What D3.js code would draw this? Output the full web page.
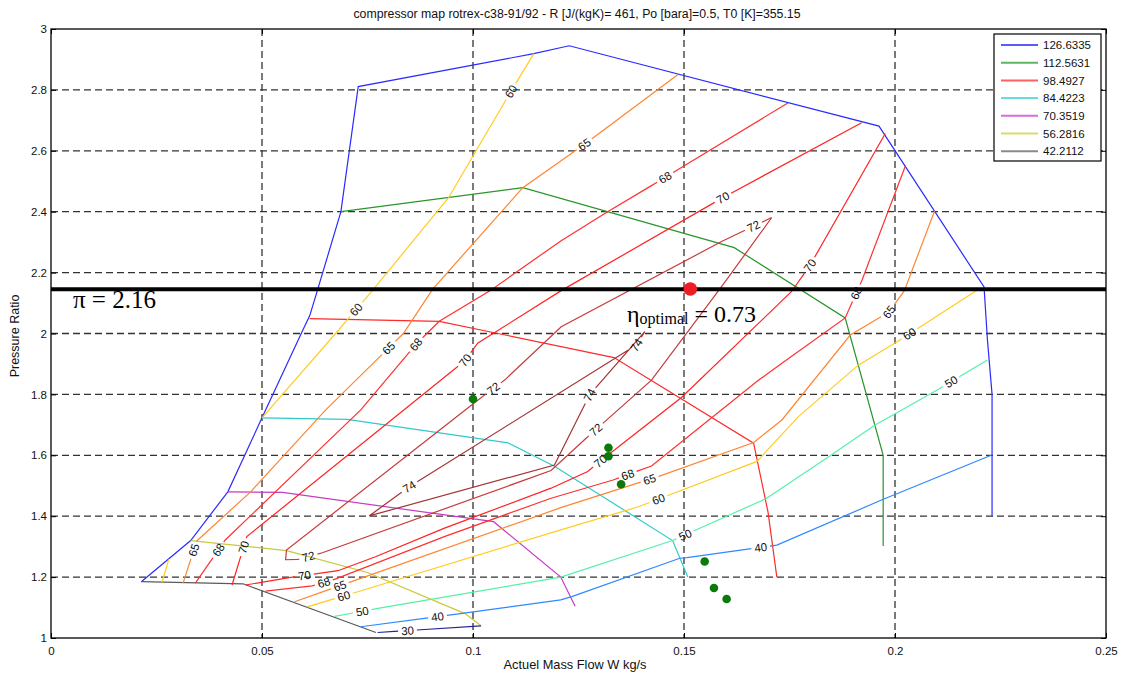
<!DOCTYPE html>
<html><head><meta charset="utf-8">
<script src="https://cdn.jsdelivr.net/npm/d3@7"></script>
<style>body{margin:0;background:#fff}</style>
</head><body>
<svg id="chart" width="1124" height="675"></svg>
<script>
// ---------- DATA ----------
const titleText = "compressor map rotrex-c38-91/92 - R [J/(kgK)= 461, Po [bara]=0.5, T0 [K]=355.15";
const xLabel = "Actuel Mass Flow W kg/s";
const yLabel = "Pressure Ratio";
const xTicks = [0, 0.05, 0.1, 0.15, 0.2, 0.25];
const xTickLabels = ["0", "0.05", "0.1", "0.15", "0.2", "0.25"];
const yTicks = [1, 1.2, 1.4, 1.6, 1.8, 2, 2.2, 2.4, 2.6, 2.8, 3];
const yTickLabels = ["1", "1.2", "1.4", "1.6", "1.8", "2", "2.2", "2.4", "2.6", "2.8", "3"];

// speed lines (legend values)
const speedNames = ["126.6335", "112.5631", "98.4927", "84.4223", "70.3519", "56.2816", "42.2112"];
const speed126 = [[0.0214,1.185],[0.0331,1.32],[0.0419,1.48],[0.05,1.723],[0.0596,2.009],[0.0613,2.058],[0.0632,2.145],[0.0687,2.40],[0.0728,2.811],[0.1144,2.919],[0.1228,2.945],[0.1962,2.681],[0.2211,2.153],[0.2219,1.98],[0.223,1.8],[0.223,1.4]];
const speed112 = [[0.0687,2.40],[0.1118,2.479],[0.1619,2.282],[0.1882,2.051],[0.1972,1.60],[0.1972,1.302]];
const speed98  = [[0.0613,2.049],[0.092,2.04],[0.1334,1.921],[0.1665,1.640],[0.1699,1.414],[0.172,1.20]];
const speed84  = [[0.05,1.723],[0.0702,1.718],[0.1083,1.641],[0.1193,1.564],[0.1473,1.32],[0.1509,1.20]];
const speed70  = [[0.0419,1.48],[0.0549,1.478],[0.1049,1.382],[0.1208,1.20],[0.1242,1.104]];
const speed56  = [[0.0331,1.32],[0.0558,1.287],[0.075,1.215],[0.0981,1.08],[0.1019,1.04]];
const speed42  = [[0.0214,1.185],[0.0455,1.178],[0.077,1.018]];

// efficiency contours (polyline + label positions)
const eta30 = [[0.0774,1.018],[0.1019,1.04]];
const eta30Labels = [[0.0845,1.021]];
const eta40 = [[0.0734,1.037],[0.0948,1.076],[0.1208,1.125],[0.1234,1.136],[0.149,1.262],[0.1507,1.264],[0.172,1.305],[0.1968,1.453],[0.2228,1.60]];
const eta40Labels = [[0.0916,1.068],[0.1682,1.294]];
const eta50 = [[0.0672,1.071],[0.0778,1.098],[0.1208,1.20],[0.1473,1.32],[0.1532,1.357],[0.1695,1.458],[0.1848,1.60],[0.1951,1.698],[0.2104,1.818],[0.2219,1.913]];
const eta50Labels = [[0.0738,1.083],[0.1503,1.338],[0.2134,1.84]];
const eta60a = [[0.05,1.723],[0.068,2.009],[0.0761,2.14],[0.0942,2.446],[0.1002,2.588],[0.109,2.795],[0.1144,2.919]];
const eta60aLabels = [[0.0727,2.074],[0.109,2.795]];
const eta60b = [[0.0279,1.258],[0.0263,1.183]];
const eta60c = [[0.0607,1.102],[0.0727,1.152],[0.1208,1.355],[0.1392,1.431],[0.1673,1.58],[0.1771,1.727],[0.1914,1.897],[0.2005,1.973],[0.2198,2.145]];
const eta60cLabels = [[0.0694,1.136],[0.1439,1.458],[0.2036,1.995]];
const eta65a = [[0.0313,1.18],[0.0345,1.318],[0.0473,1.48],[0.0651,1.749],[0.0835,2.0],[0.0904,2.145],[0.1118,2.479],[0.1264,2.621],[0.1485,2.85]];
const eta65aLabels = [[0.0339,1.289],[0.0789,1.968],[0.1264,2.621]];
const eta65b = [[0.0577,1.119],[0.1208,1.428],[0.1447,1.534],[0.1665,1.642],[0.1732,1.716],[0.1894,1.995],[0.1985,2.07],[0.2022,2.14],[0.2094,2.403]];
const eta65bLabels = [[0.0685,1.169],[0.1419,1.519],[0.1985,2.072]];
const eta68a = [[0.0342,1.18],[0.0413,1.322],[0.0734,1.749],[0.0865,1.965],[0.092,2.04],[0.104,2.14],[0.1208,2.304],[0.1319,2.40],[0.1421,2.484],[0.1746,2.757]];
const eta68aLabels = [[0.0397,1.289],[0.0865,1.964],[0.1456,2.511]];
const eta68b = [[0.0508,1.154],[0.0619,1.171],[0.0675,1.194],[0.0932,1.333],[0.1185,1.459],[0.1332,1.519],[0.1423,1.565],[0.1677,1.847],[0.1732,1.902],[0.1882,2.051],[0.1922,2.176],[0.2025,2.552]];
const eta68bLabels = [[0.0647,1.18],[0.1367,1.535],[0.191,2.132]];
const eta70a = [[0.0429,1.174],[0.0464,1.333],[0.0981,1.911],[0.1011,1.968],[0.1208,2.14],[0.1592,2.446],[0.1921,2.692]];
const eta70aLabels = [[0.0452,1.30],[0.0983,1.911],[0.1592,2.446]];
const eta70b = [[0.0461,1.174],[0.0568,1.199],[0.068,1.221],[0.0769,1.267],[0.0931,1.36],[0.1185,1.492],[0.1272,1.547],[0.1319,1.60],[0.1494,1.79],[0.1755,2.138],[0.1799,2.225],[0.1977,2.657]];
const eta70bLabels = [[0.0601,1.202],[0.1306,1.574],[0.1797,2.225]];
const eta72 = [[0.1708,2.381],[0.1589,2.302],[0.1209,2.022],[0.1075,1.847],[0.1015,1.785],[0.0558,1.289],[0.0556,1.257],[0.0585,1.258],[0.0643,1.28],[0.1185,1.55],[0.1268,1.656],[0.1423,1.847],[0.1589,2.154],[0.1708,2.381]];
const eta72Labels = [[0.1665,2.351],[0.1049,1.818],[0.0611,1.262],[0.129,1.686]];
const eta74 = [[0.1407,2.006],[0.1387,1.962],[0.0849,1.497],[0.0754,1.401],[0.1193,1.568],[0.1276,1.798],[0.1407,2.006]];
const eta74Labels = [[0.0849,1.497],[0.1276,1.798],[0.1387,1.962]];

// measured points and optimum
const measuredW  = [0.1, 0.1321, 0.1321, 0.1351, 0.1549, 0.1571, 0.1601];
const measuredPR = [1.785, 1.625, 1.597, 1.505, 1.251, 1.164, 1.128];
const optimumW = [0.1515];
const optimumPR = [2.146];
const piLineValue = 2.145;
const piText = "π = 2.16";
const etaText = ["η", "optimal", " = 0.73"];

// ---------- STYLES ----------
const speedColors = ["#2b2bff", "#2a952a", "#ff2a2a", "#33c9c9", "#c43cc4", "#c9c93a", "#5a5a5a"];
const legendColors = ["#5a5aff", "#5fb55f", "#ff6060", "#66dcdc", "#d86cd8", "#dada70", "#8a8a8a"];
const etaColors = {30:"#23239a", 40:"#2f88ff", 50:"#55f0aa", 60:"#ffcc22", 65:"#ff8530", 68:"#ff3030", 70:"#ff2222", 72:"#c83a3a", 74:"#a33434"};

// ---------- CHART ----------
const svg = d3.select("#chart");
const L = 51, R = 1106, T = 29, B = 638;
const x = d3.scaleLinear().domain([0, 0.25]).range([L, R]);
const y = d3.scaleLinear().domain([1, 3]).range([B, T]);
const font = "'Liberation Sans', Arial, Helvetica, sans-serif";

svg.append("rect").attr("x",0).attr("y",0).attr("width",1124).attr("height",675).attr("fill","#fff");

// grid
const grid = svg.append("g");
xTicks.slice(1,-1).forEach(v => grid.append("line").attr("x1",x(v)).attr("x2",x(v)).attr("y1",T).attr("y2",B)
  .attr("stroke","#333").attr("stroke-width",1.3).attr("stroke-dasharray","7,4"));
yTicks.slice(1,-1).forEach(v => grid.append("line").attr("x1",L).attr("x2",R).attr("y1",y(v)).attr("y2",y(v))
  .attr("stroke","#333").attr("stroke-width",1.3).attr("stroke-dasharray","7,4"));

// axes via d3
const xAxisB = d3.axisBottom(x).tickValues(xTicks).tickFormat((d,i)=>xTickLabels[i]).tickSizeInner(-5).tickSizeOuter(0).tickPadding(9);
const xAxisT = d3.axisTop(x).tickValues(xTicks).tickFormat("").tickSizeInner(-5).tickSizeOuter(0);
const yAxisL = d3.axisLeft(y).tickValues(yTicks).tickFormat((d,i)=>yTickLabels[i]).tickSizeInner(-5).tickSizeOuter(0).tickPadding(4);
const yAxisR = d3.axisRight(y).tickValues(yTicks).tickFormat("").tickSizeInner(-5).tickSizeOuter(0);
function styleAxis(g){ g.selectAll("path").remove(); g.selectAll("line").attr("stroke","#000");
  g.selectAll("text").attr("font-family",font).attr("font-size","11.5px").attr("fill","#111"); }
svg.append("g").attr("transform",`translate(0,${B})`).call(xAxisB).call(styleAxis);
svg.append("g").attr("transform",`translate(0,${T})`).call(xAxisT).call(styleAxis);
svg.append("g").attr("transform",`translate(${L},0)`).call(yAxisL).call(styleAxis);
svg.append("g").attr("transform",`translate(${R},0)`).call(yAxisR).call(styleAxis);

const lineGen = d3.line().x(d=>x(d[0])).y(d=>y(d[1]));
const plot = svg.append("g");

// contour drawing with inline labels (gap in the line under each label)
function drawContour(pts, color, value, labels) {
  const sp = pts.map(p=>[x(p[0]), y(p[1])]);
  const cum=[0];
  for (let i=1;i<sp.length;i++) cum.push(cum[i-1]+Math.hypot(sp[i][0]-sp[i-1][0], sp[i][1]-sp[i-1][1]));
  const total = cum[cum.length-1];
  const gaps=[]; const texts=[];
  (labels||[]).forEach(lp=>{
    const P=[x(lp[0]), y(lp[1])];
    let best={d:Infinity};
    for (let i=1;i<sp.length;i++){
      const A=sp[i-1], Bp=sp[i]; const dx=Bp[0]-A[0], dy=Bp[1]-A[1]; const l2=dx*dx+dy*dy; if(l2===0) continue;
      let t=((P[0]-A[0])*dx+(P[1]-A[1])*dy)/l2; t=Math.max(0,Math.min(1,t));
      const Q=[A[0]+t*dx, A[1]+t*dy]; const d=Math.hypot(P[0]-Q[0],P[1]-Q[1]);
      if(d<best.d) best={d, s:cum[i-1]+t*Math.sqrt(l2), q:Q, ang:Math.atan2(dy,dx)*180/Math.PI};
    }
    let a=best.ang; if(a>90) a-=180; if(a<-90) a+=180;
    const label=String(value); const w=label.length*6.4+6;
    gaps.push([best.s-w/2, best.s+w/2]);
    texts.push({q:best.q, a, label});
  });
  const path = plot.append("path").attr("d", lineGen(pts)).attr("fill","none").attr("stroke",color).attr("stroke-width",1.2);
  if (gaps.length){
    gaps.sort((p,q)=>p[0]-q[0]);
    let pos=0; const arr=[];
    gaps.forEach(g=>{ const a=Math.max(g[0],pos), b=Math.min(g[1],total); if(b<=a) return; arr.push(a-pos, b-a); pos=b; });
    arr.push(Math.max(total-pos,0)+20, 20);
    path.attr("stroke-dasharray", arr.join(","));
  }
  texts.forEach(t=>{
    plot.append("text").attr("x",0).attr("y",0).attr("transform",`translate(${t.q[0]},${t.q[1]}) rotate(${t.a})`)
      .attr("text-anchor","middle").attr("dy","0.36em").attr("font-family",font).attr("font-size","11.5px").attr("fill","#111").text(t.label);
  });
}

// speed lines
const speedSeries = [speed126, speed112, speed98, speed84, speed70, speed56, speed42];
speedSeries.forEach((s,i)=> plot.append("path").attr("d", lineGen(s)).attr("fill","none").attr("stroke",speedColors[i]).attr("stroke-width",1.2));

// efficiency contours
const contourTable = [
  [30, eta30, eta30Labels], [40, eta40, eta40Labels], [50, eta50, eta50Labels],
  [60, eta60a, eta60aLabels], [60, eta60b, []], [60, eta60c, eta60cLabels],
  [65, eta65a, eta65aLabels], [65, eta65b, eta65bLabels],
  [68, eta68a, eta68aLabels], [68, eta68b, eta68bLabels],
  [70, eta70a, eta70aLabels], [70, eta70b, eta70bLabels],
  [72, eta72, eta72Labels], [74, eta74, eta74Labels]
];
contourTable.forEach(c=> drawContour(c[1], etaColors[c[0]], c[0], c[2]));

// measured points
plot.selectAll("circle.meas").data(measuredW.map((w,i)=>[w, measuredPR[i]])).enter().append("circle")
  .attr("cx",d=>x(d[0])).attr("cy",d=>y(d[1])).attr("r",4.3).attr("fill","#0a7a0a");

// pi line
plot.append("line").attr("x1",L).attr("x2",R).attr("y1",y(piLineValue)).attr("y2",y(piLineValue)).attr("stroke","#000").attr("stroke-width",4);

// optimum point
plot.selectAll("circle.opt").data(optimumW.map((w,i)=>[w, optimumPR[i]])).enter().append("circle")
  .attr("cx",d=>x(d[0])).attr("cy",d=>y(d[1])).attr("r",6.8).attr("fill","#ee1c24");

// annotations
svg.append("text").attr("x",73).attr("y",308).attr("font-family","'Liberation Serif','Times New Roman',serif").attr("font-size","25px").attr("fill","#000").text(piText);
const et = svg.append("text").attr("x",627).attr("y",322).attr("font-family","'Liberation Serif','Times New Roman',serif").attr("fill","#000");
et.append("tspan").attr("font-size","24px").text(etaText[0]);
et.append("tspan").attr("font-size","16px").attr("dy","2").text(etaText[1]);
et.append("tspan").attr("font-size","24px").attr("dy","-2").text(etaText[2]);

// border
svg.append("rect").attr("x",L).attr("y",T).attr("width",R-L).attr("height",B-T).attr("fill","none").attr("stroke","#000").attr("stroke-width",1.3);

// title and axis labels
svg.append("text").attr("x",577).attr("y",18).attr("text-anchor","middle").attr("font-family",font).attr("font-size","12.3px").attr("fill","#111").text(titleText);
svg.append("text").attr("x",575).attr("y",669).attr("text-anchor","middle").attr("font-family",font).attr("font-size","12.8px").attr("fill","#111").text(xLabel);
svg.append("text").attr("transform","translate(19,336) rotate(-90)").attr("text-anchor","middle").attr("font-family",font).attr("font-size","12.5px").attr("fill","#111").text(yLabel);

// legend
const lg = svg.append("g");
lg.append("rect").attr("x",994).attr("y",34).attr("width",107).attr("height",127).attr("fill","#fff").attr("stroke","#000").attr("stroke-width",1.2);
speedNames.forEach((n,i)=>{
  const yy = 45 + i*17.7;
  lg.append("line").attr("x1",1001).attr("x2",1038).attr("y1",yy).attr("y2",yy).attr("stroke",legendColors[i]).attr("stroke-width",2);
  lg.append("text").attr("x",1043).attr("y",yy).attr("dy","0.36em").attr("font-family",font).attr("font-size","11.5px").attr("fill","#111").text(n);
});
</script>
</body></html>
